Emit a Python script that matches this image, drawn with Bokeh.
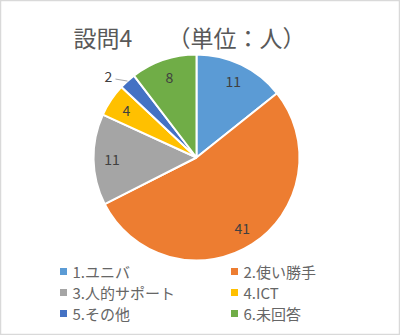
import math
from bokeh.plotting import figure
from bokeh.models import Range1d, ColumnDataSource
from bokeh.core.properties import value
from bokeh.embed import file_html
from bokeh.resources import INLINE

categories = ["1.ユニバ", "2.使い勝手", "3.人的サポート", "4.ICT", "5.その他", "6.未回答"]
counts = [11, 41, 11, 4, 2, 8]
colors = ["#5B9BD5", "#ED7D31", "#A5A5A5", "#FFC000", "#4472C4", "#70AD47"]
title_left = "設問4"
title_right = "（単位：人）"

W, H = 400, 335
FONT = "Noto Sans CJK JP"

p = figure(width=W, height=H, x_range=Range1d(0, W), y_range=Range1d(0, H),
           x_axis_type=None, y_axis_type=None, toolbar_location=None,
           output_backend="svg", min_border=0)
p.grid.visible = False
p.outline_line_color = "#D9D9D9"
p.outline_line_width = 1.5
p.background_fill_color = "white"
p.border_fill_color = "white"

def Y(v):
    return H - v

cx, cy, R = 196, Y(157), 103
total = sum(counts)
starts, ends, mids = [], [], []
acc = 0
for c in counts:
    a0 = acc / total
    acc += c
    a1 = acc / total
    starts.append(math.pi / 2 - a0 * 2 * math.pi)
    ends.append(math.pi / 2 - a1 * 2 * math.pi)
    mids.append(math.pi / 2 - (a0 + a1) / 2 * 2 * math.pi)

src = ColumnDataSource(dict(start=starts, end=ends, color=colors))
p.wedge(x=cx, y=cy, radius=R, start_angle="start", end_angle="end",
        direction="clock", fill_color="color", line_color="white",
        line_width=2, source=src)

# data labels
lx, ly, lt = [], [], []
for i, (c, m) in enumerate(zip(counts, mids)):
    if c / total < 0.04:
        ex, ey = cx + R * math.cos(m), cy + R * math.sin(m)
        p.line([ex, ex - 12], [ey, ey + 2], line_color="#A6A6A6", line_width=1)
        lx.append(ex - 19)
        ly.append(ey + 5)
    else:
        r = 0.82 * R
        lx.append(cx + r * math.cos(m))
        ly.append(cy + r * math.sin(m))
    lt.append(str(c))
p.text(x=lx, y=ly, text=lt, text_align="center", text_baseline="middle",
       text_font=value(FONT), text_font_size="14px", text_color="#404040")

# title
p.text(x=[73], y=[Y(36)], text=[title_left], text_align="left",
       text_baseline="middle", text_font=value(FONT), text_font_size="23px",
       text_color="#595959")
p.text(x=[305], y=[Y(36)], text=[title_right], text_align="right",
       text_baseline="middle", text_font=value(FONT), text_font_size="23px",
       text_color="#595959")

# legend
col_x = [63, 234]
row_y = [271, 292, 313]
sx, sy, tx, ty = [], [], [], []
for i in range(len(categories)):
    col, row = i % 2, i // 2
    sx.append(col_x[col])
    sy.append(Y(row_y[row]))
    tx.append(col_x[col] + 9)
    ty.append(Y(row_y[row]))
p.scatter(x=sx, y=sy, marker="square", size=7, fill_color=colors, line_color=None)
p.text(x=tx, y=ty, text=categories, text_align="left", text_baseline="middle",
       text_font=value(FONT), text_font_size="15px", text_color="#666666")

open("out.html", "w").write(file_html(p, INLINE))
